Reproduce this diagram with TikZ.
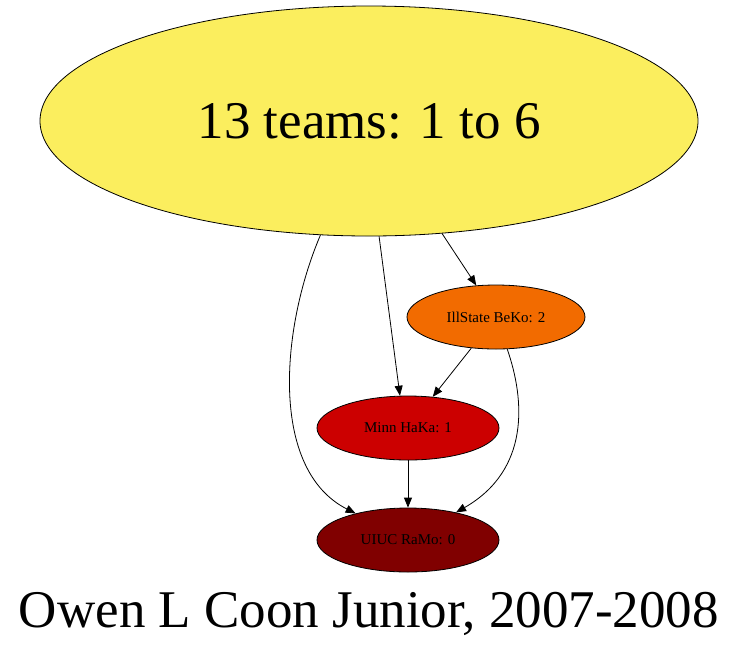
\documentclass[tikz,border=0pt]{standalone}
\usepackage{xcolor}
\usepackage{tikz}
\usepackage{fontspec}
\setmainfont{Liberation Serif}
\usetikzlibrary{arrows.meta,positioning,shapes.geometric}
\definecolor{teamYellow}{HTML}{FBEE5E}
\definecolor{teamOrange}{HTML}{F26B00}
\definecolor{teamRed}{HTML}{CC0000}
\definecolor{teamMaroon}{HTML}{800000}
\tikzset{
  teamnode/.style={ellipse,draw=black,line width=0.8pt,inner sep=0pt,
    minimum width=182pt,minimum height=64pt,font=\fontsize{15}{17}\selectfont},
  arrow/.style={-{Triangle[length=10pt,width=8pt]},line width=0.8pt}
}

\begin{document}
\begin{tikzpicture}[x=1pt,y=-1pt]
  \useasboundingbox (0,0) rectangle (739,649);
  \node[teamnode, fill=teamYellow, minimum width=658pt, minimum height=230pt,
    font=\fontsize{53}{60}\selectfont] (all) at (369,121) {13 teams: 1 to 6};
  \node[teamnode, fill=teamOrange, minimum width=178pt] (ill) at (496,317) {IllState BeKo: 2};
  \node[teamnode, fill=teamRed] (minn) at (408,428) {Minn HaKa: 1};
  \node[teamnode, fill=teamMaroon] (uiuc) at (408,540) {UIUC RaMo: 0};
  \node[anchor=base, font=\fontsize{53}{60}\selectfont] (title) at (369,627) {Owen L Coon Junior, 2007-2008};
  \draw[arrow] (all) .. controls (280,330) and (270,470) .. (uiuc);
  \draw[arrow] (all.275) -- (minn.104);
  \draw[arrow] (all.303) -- (ill.122);
  \draw[arrow] (ill) -- (minn);
  \draw[arrow] (ill) .. controls (525,400) and (530,470) .. (uiuc);
  \draw[arrow] (minn) -- (uiuc);
\end{tikzpicture}
\end{document}
